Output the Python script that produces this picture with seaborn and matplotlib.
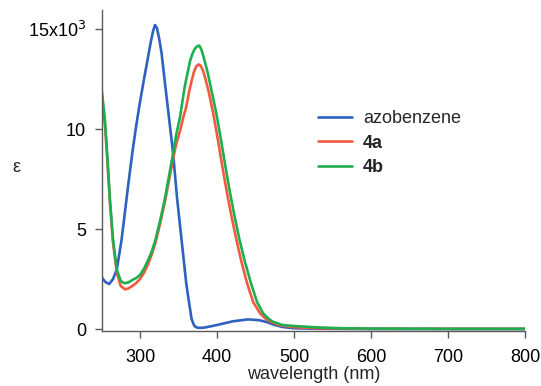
#!/usr/bin/env python3

import pandas as pd
import matplotlib
matplotlib.use('Agg')
import matplotlib.pyplot as plt
import seaborn as sns

# absorption spectra (wavelength in nm, epsilon)
azo_wl = [250, 255, 260, 265, 270, 276, 280, 285, 290, 295, 300, 305, 310,
          314, 317, 319.5, 322, 325, 328, 333, 338, 343, 348, 354, 360,
          363, 367, 370, 372, 375, 380, 385, 400, 420, 440, 455, 465, 475,
          485, 500, 530, 600, 800]
azo_eps = [2600, 2350, 2250, 2500, 3000, 4450, 5700, 7300, 8800, 10150,
           11350, 12450, 13500, 14350, 14900, 15200, 15050, 14500, 13800,
           12100, 10450, 8780, 6600, 4450, 2300, 1500, 500, 200, 110, 60,
           60, 80, 200, 380, 480, 440, 340, 200, 100, 40, 10, 0, 0]

a4_wl = [250, 254.5, 258, 261, 265, 270, 275, 280.5, 285, 290, 295, 300,
         305, 310, 315, 320, 326, 332, 337, 343, 347, 352, 356, 360, 364,
         367, 370, 373, 376, 379, 382, 385, 389, 395, 401, 407, 413, 419,
         425, 431.5, 439, 447, 456, 462, 469, 480, 500, 530, 600, 800]
a4_eps = [11800, 10200, 8200, 6300, 4300, 2800, 2150, 1985, 2030, 2150,
          2300, 2500, 2800, 3200, 3700, 4300, 5250, 6300, 7300, 8500, 9250,
          9900, 10550, 11100, 11900, 12400, 12850, 13130, 13230, 13150,
          12900, 12500, 11900, 10800, 9500, 8100, 6800, 5600, 4500, 3400,
          2300, 1350, 780, 550, 370, 200, 90, 40, 10, 5]

b4_wl = [250, 254.5, 258, 261, 265, 270, 275, 280, 285, 290, 295, 300, 305,
         310, 315, 320, 326, 332, 337, 343, 347, 352, 355, 358, 362, 365,
         368, 371, 374, 377, 380, 384, 388, 393, 399, 405, 411, 417, 423,
         429, 436, 444, 452, 460, 466, 472, 485, 500, 530, 560, 600, 700,
         800]
b4_eps = [12050, 10450, 8400, 6450, 4450, 2950, 2400, 2285, 2330, 2450,
          2550, 2700, 3000, 3400, 3850, 4450, 5400, 6450, 7500, 8780, 9700,
          10600, 11350, 12100, 12850, 13400, 13750, 14000, 14130, 14170,
          13950, 13400, 12800, 11900, 10800, 9500, 8100, 6800, 5600, 4500,
          3400, 2300, 1350, 780, 550, 370, 200, 150, 80, 40, 20, 10, 10]

names = ['azobenzene', '4a', '4b']
colors = ['#2d62c0', '#f2593f', '#1fae4f']

frames = []
for name, wl, eps in zip(names, [azo_wl, a4_wl, b4_wl],
                         [azo_eps, a4_eps, b4_eps]):
    frames.append(pd.DataFrame({'wavelength': wl, 'eps': eps,
                                'compound': name}))
df = pd.concat(frames, ignore_index=True)

sns.set_style("ticks")
plt.rcParams['font.family'] = ['Liberation Sans', 'DejaVu Sans']

fig = plt.figure(figsize=(5.41, 3.86), dpi=100)
ax = fig.add_axes([101.5 / 541, 55 / 386, 423.5 / 541, 321 / 386])

sns.lineplot(data=df, x='wavelength', y='eps', hue='compound',
             hue_order=names, palette=colors, estimator=None,
             linewidth=1.9, legend=False, ax=ax)

ax.set_xlim(250, 800)
ax.set_ylim(-100, 15950)
ax.set_xticks([300, 400, 500, 600, 700, 800])
ax.set_yticks([0, 5000, 10000, 15000])
ax.set_yticklabels(['0', '5', '10', r'15x10$^3$'])

for side in ['top', 'right']:
    ax.spines[side].set_visible(False)
for side in ['left', 'bottom']:
    ax.spines[side].set_color('#5a5a5a')
    ax.spines[side].set_linewidth(1.0)
ax.tick_params(axis='both', colors='#5a5a5a', labelcolor='black',
               labelsize=13, length=5, width=1.0)
ax.tick_params(axis='x', pad=8)
ax.tick_params(axis='y', pad=6)

ax.set_xlabel('wavelength (nm)', fontsize=13)
ax.xaxis.set_label_coords(0.5, -0.137)
ax.xaxis.label.set_va('center')
ax.set_ylabel('ε', fontsize=13, rotation=0)
ax.yaxis.set_label_coords(-0.2, 0.508)
ax.yaxis.label.set_va('center')

handles = ax.get_lines()[:3]
leg = ax.legend(handles, names, loc='upper left', frameon=False,
                bbox_to_anchor=(318 / 541, 1 - 110 / 386),
                bbox_transform=fig.transFigure, borderpad=0,
                borderaxespad=0, handlelength=1.9, handletextpad=0.6,
                labelspacing=0.42, fontsize=13)
for t in leg.get_texts()[1:]:
    t.set_fontweight('bold')

fig.savefig('out.png', dpi=100)
